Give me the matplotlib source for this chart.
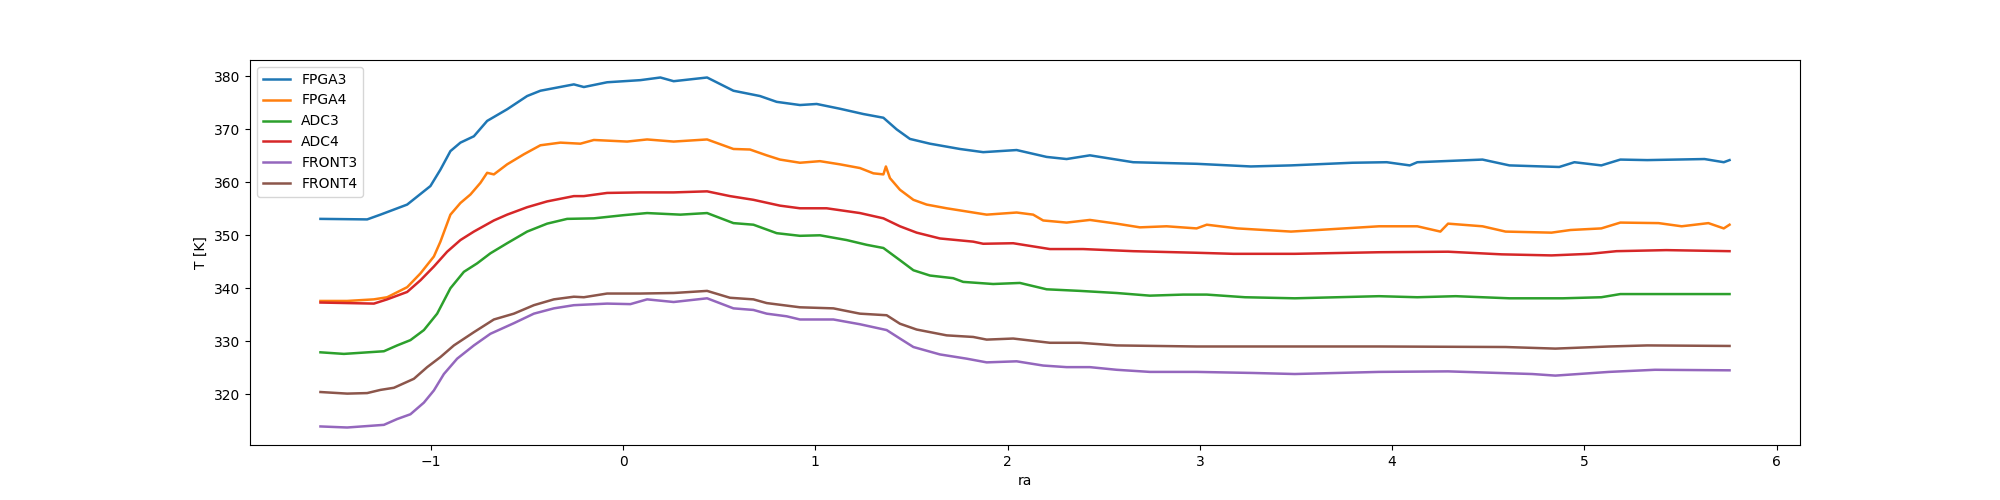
import matplotlib
matplotlib.use("Agg")
import matplotlib.pyplot as plt

# valores (ra, T [K])
fpga3_ra = [-1.574, -1.331, -1.262, -1.123, -1.002, -0.950, -0.898, -0.846, -0.776, -0.707,
            -0.603, -0.499, -0.430, -0.256, -0.204, -0.083, 0.090, 0.194, 0.263, 0.437,
            0.574, 0.712, 0.799, 0.920, 1.007, 1.128, 1.250, 1.354, 1.423, 1.492,
            1.596, 1.752, 1.873, 2.047, 2.203, 2.307, 2.428, 2.653, 2.983, 3.265,
            3.474, 3.793, 3.972, 4.092, 4.131, 4.470, 4.610, 4.869, 4.948, 5.088,
            5.187, 5.327, 5.625, 5.725, 5.755]
fpga3_t = [353.1, 353.0, 353.9, 355.8, 359.3, 362.4, 365.9, 367.5, 368.7, 371.6,
           373.8, 376.3, 377.3, 378.5, 378.0, 378.9, 379.3, 379.8, 379.1, 379.8,
           377.3, 376.3, 375.2, 374.6, 374.8, 373.9, 372.9, 372.2, 370.0, 368.2,
           367.3, 366.3, 365.7, 366.1, 364.8, 364.4, 365.1, 363.8, 363.5, 363.0,
           363.2, 363.7, 363.8, 363.2, 363.8, 364.3, 363.2, 362.9, 363.8, 363.2,
           364.3, 364.2, 364.4, 363.8, 364.2]

fpga4_ra = [-1.574, -1.435, -1.296, -1.227, -1.123, -1.054, -0.984, -0.950, -0.898, -0.846,
            -0.794, -0.742, -0.707, -0.672, -0.603, -0.516, -0.430, -0.326, -0.222, -0.152,
            0.021, 0.125, 0.263, 0.437, 0.574, 0.660, 0.747, 0.816, 0.920, 1.024,
            1.128, 1.232, 1.302, 1.354, 1.367, 1.388, 1.440, 1.510, 1.579, 1.683,
            1.787, 1.891, 2.047, 2.133, 2.185, 2.307, 2.428, 2.567, 2.688, 2.827,
            2.983, 3.036, 3.195, 3.474, 3.614, 3.932, 4.131, 4.251, 4.291, 4.470,
            4.590, 4.829, 4.928, 5.088, 5.187, 5.386, 5.506, 5.645, 5.725, 5.755]
fpga4_t = [337.6, 337.6, 337.9, 338.3, 340.2, 342.8, 346.0, 348.8, 353.9, 356.1,
           357.7, 359.9, 361.8, 361.5, 363.4, 365.3, 367.0, 367.5, 367.3, 368.0,
           367.7, 368.1, 367.7, 368.1, 366.3, 366.2, 365.1, 364.3, 363.7, 364.0,
           363.4, 362.7, 361.7, 361.5, 363.0, 360.8, 358.6, 356.7, 355.8, 355.1,
           354.5, 353.9, 354.3, 353.9, 352.8, 352.4, 352.9, 352.2, 351.5, 351.7,
           351.3, 352.0, 351.3, 350.7, 351.0, 351.7, 351.7, 350.7, 352.2, 351.7,
           350.7, 350.5, 351.0, 351.3, 352.4, 352.3, 351.7, 352.3, 351.3, 352.0]

adc3_ra = [-1.574, -1.452, -1.244, -1.175, -1.106, -1.036, -0.967, -0.898, -0.828, -0.759,
           -0.690, -0.603, -0.499, -0.395, -0.291, -0.152, 0.003, 0.125, 0.298, 0.437,
           0.574, 0.678, 0.799, 0.920, 1.024, 1.163, 1.267, 1.354, 1.440, 1.510,
           1.596, 1.717, 1.769, 1.925, 2.064, 2.203, 2.376, 2.567, 2.740, 2.913,
           3.036, 3.235, 3.494, 3.932, 4.131, 4.331, 4.610, 4.888, 5.088, 5.187,
           5.426, 5.755]
adc3_t = [327.9, 327.6, 328.1, 329.2, 330.2, 332.1, 335.2, 340.0, 343.1, 344.7,
          346.6, 348.5, 350.7, 352.2, 353.1, 353.2, 353.8, 354.2, 353.9, 354.2,
          352.3, 352.0, 350.4, 349.9, 350.0, 349.1, 348.2, 347.6, 345.3, 343.4,
          342.4, 341.9, 341.2, 340.8, 341.0, 339.8, 339.5, 339.1, 338.6, 338.8,
          338.8, 338.3, 338.1, 338.5, 338.3, 338.5, 338.1, 338.1, 338.3, 338.9,
          338.9, 338.9]

adc4_ra = [-1.574, -1.296, -1.227, -1.123, -1.054, -0.984, -0.915, -0.846, -0.776, -0.672,
           -0.603, -0.499, -0.395, -0.256, -0.204, -0.083, 0.090, 0.263, 0.437, 0.556,
           0.678, 0.816, 0.920, 1.059, 1.232, 1.354, 1.440, 1.527, 1.648, 1.821,
           1.873, 2.029, 2.220, 2.393, 2.653, 2.983, 3.175, 3.494, 3.932, 4.291,
           4.570, 4.829, 5.028, 5.167, 5.426, 5.755]
adc4_t = [337.3, 337.1, 337.9, 339.3, 341.5, 344.1, 346.9, 349.1, 350.7, 352.8,
          353.9, 355.3, 356.4, 357.4, 357.4, 358.0, 358.1, 358.1, 358.3, 357.4,
          356.7, 355.6, 355.1, 355.1, 354.2, 353.2, 351.7, 350.5, 349.4, 348.8,
          348.4, 348.5, 347.4, 347.4, 347.0, 346.7, 346.5, 346.5, 346.8, 346.9,
          346.4, 346.2, 346.5, 347.0, 347.2, 347.0]

front3_ra = [-1.574, -1.435, -1.244, -1.175, -1.106, -1.036, -0.984, -0.932, -0.863, -0.776,
             -0.690, -0.568, -0.464, -0.360, -0.256, -0.083, 0.038, 0.125, 0.263, 0.437,
             0.574, 0.678, 0.747, 0.851, 0.920, 1.094, 1.232, 1.371, 1.440, 1.510,
             1.648, 1.787, 1.891, 2.047, 2.185, 2.307, 2.428, 2.567, 2.740, 2.983,
             3.275, 3.494, 3.932, 4.291, 4.729, 4.849, 5.128, 5.367, 5.755]
front3_t = [313.9, 313.7, 314.2, 315.3, 316.2, 318.4, 320.7, 323.8, 326.7, 329.2,
            331.4, 333.4, 335.2, 336.2, 336.8, 337.1, 337.0, 337.9, 337.4, 338.1,
            336.2, 335.9, 335.2, 334.7, 334.1, 334.1, 333.2, 332.1, 330.5, 328.9,
            327.5, 326.7, 326.0, 326.2, 325.4, 325.1, 325.1, 324.6, 324.2, 324.2,
            324.0, 323.8, 324.2, 324.3, 323.8, 323.5, 324.2, 324.6, 324.5]

front4_ra = [-1.574, -1.435, -1.331, -1.262, -1.192, -1.088, -1.019, -0.950, -0.880, -0.776,
             -0.672, -0.568, -0.464, -0.360, -0.256, -0.204, -0.083, 0.090, 0.263, 0.437,
             0.556, 0.678, 0.747, 0.920, 1.094, 1.232, 1.371, 1.440, 1.527, 1.683,
             1.821, 1.891, 2.029, 2.220, 2.376, 2.567, 2.983, 3.932, 4.590, 4.849,
             5.128, 5.327, 5.755]
front4_t = [320.4, 320.1, 320.2, 320.8, 321.2, 322.9, 325.1, 327.0, 329.2, 331.7,
            334.1, 335.2, 336.8, 337.9, 338.4, 338.3, 339.0, 339.0, 339.1, 339.5,
            338.2, 337.9, 337.2, 336.4, 336.2, 335.2, 334.9, 333.3, 332.2, 331.1,
            330.8, 330.3, 330.5, 329.7, 329.7, 329.2, 329.0, 329.0, 328.9, 328.6,
            329.0, 329.2, 329.1]

series = [
    ("FPGA3", fpga3_ra, fpga3_t),
    ("FPGA4", fpga4_ra, fpga4_t),
    ("ADC3", adc3_ra, adc3_t),
    ("ADC4", adc4_ra, adc4_t),
    ("FRONT3", front3_ra, front3_t),
    ("FRONT4", front4_ra, front4_t),
]

fig, ax = plt.subplots(figsize=(20, 5), dpi=100)
for name, ra, t in series:
    ax.plot(ra, t, label=name, lw=1.8)

ax.set_xlabel("ra")
ax.set_ylabel("T [K]")
ax.legend(loc="upper left")
fig.savefig("out.png", dpi=100)
